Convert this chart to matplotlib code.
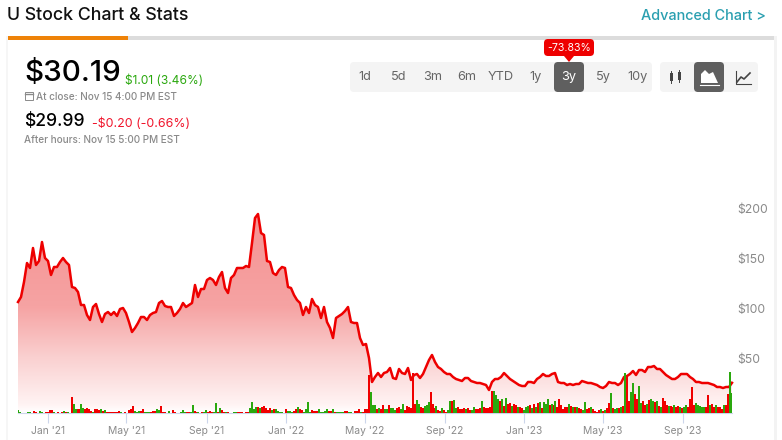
# U stock chart + stats panel
import numpy as np
import pandas as pd
import matplotlib
matplotlib.use('Agg')
import matplotlib.pyplot as plt
import matplotlib.dates as mdates
from matplotlib.colors import LinearSegmentedColormap
from matplotlib.patches import FancyBboxPatch, Rectangle, Polygon
from matplotlib.transforms import ScaledTranslation

# closing price, read every few sessions
price = [111,116,131,150,145,165,148,152,171,155,152,138,146,146,151,155,151,148,126,125,
         121,108,108,98,93,106,109,99,91,99,101,98,101,97,104,105,100,91,81,85,
         90,96,96,93,98,100,101,110,112,107,106,106,97,100,104,110,106,108,110,128,
         116,124,124,133,135,133,128,136,141,125,120,135,138,145,145,145,147,146,170,195,
         199,180,178,152,151,140,138,143,146,145,126,125,118,113,110,98,106,100,114,108,
         106,95,106,91,85,75,95,97,99,102,106,91,90,90,75,68,69,55,31,36,
         40,36,40,41,45,
         35,34,44,40,39,45,33,38,39,35,39,46,53,58,51,46,44,41,39,39,
         36,34,33,32,35,35,32,31,30,30,29,28,23,31,34,34,36,40,37,34,
         32,30,28,27,27,31,31,30,34,36,39,37,37,39,40,31,30,30,28,29,
         28,29,29,32,31,30,30,29,28,26,25,27,31,30,30,28,30,36,37,39,
         42,38,43,43,41,46,46,47,44,44,41,38,36,34,34,36,39,39,39,36,
         34,31,31,30,30,30,29,28,26,26,25,26,26,30.19]

# volume, same scale as the plot; minus means a down day (red bar)
volume = [3,1,0,0,0,1,1,0,-2,-1,0,2,1,0,-1,-1,-3,-3,1,0,-1,0,-1,2,-1,1,0,-16,9,4,
          -4,-4,9,5,-4,-5,-4,-2,1,-4,-4,-3,4,-2,3,-1,-1,-1,-1,-1,-1,-2,1,0,-1,0,-3,-4,-7,2,
          1,2,-2,-4,1,1,1,-1,-2,-2,4,3,-7,-1,-1,0,2,0,-3,-1,0,0,1,3,1,-1,-1,1,8,
          -2,-1,1,0,-1,1,3,-1,-2,-1,1,10,-1,5,-3,-1,1,-1,0,0,1,1,-1,-1,-1,0,-1,-1,5,11,
          4,6,-6,5,-6,-7,-5,-3,-5,3,-4,4,2,1,1,0,-4,2,2,1,-2,-4,6,-4,-3,1,4,11,1,-3,
          -2,-2,-2,4,1,1,2,4,-2,-2,4,-1,1,1,1,1,-2,-2,1,1,0,-2,-2,-4,1,-1,-4,-4,-38,
          21,8,8,-4,5,-4,-8,4,4,-8,5,5,3,-5,-6,4,9,-3,-7,-6,-5,-40,-9,13,9,-6,-5,7,8,11,
          -21,-9,-5,7,-3,-2,5,-3,-1,3,12,-12,13,5,-6,-4,-4,-5,4,-5,-3,3,6,-4,-4,-5,12,-6,-5,-5,
          -6,-22,22,18,14,-12,14,-7,15,-9,-10,7,-9,-8,6,-6,-5,3,6,7,-8,5,-9,6,-10,11,-5,11,9,14,-8,
          9,-8,12,-6,-14,-8,-4,-6,-6,9,-7,6,-6,6,-5,-4,3,11,-4,-5,6,-4,-2,-1,-3,4,-2,3,-5,-10,
          20,-5,4,5,-5,6,-7,40,-38,-12,21,30,-19,-14,27,10,-12,-8,9,-13,14,12,-11,12,-7,6,-15,-12,-8,7,
          -7,-6,8,-6,-7,6,-5,6,8,-6,-14,-26,-8,10,8,7,6,6,-6,-18,8,-9,-6,8,-6,-6,-4,8,-8,-19,41,20]

month_ticks = ['2021-01-01','2021-05-01','2021-09-01','2022-01-01','2022-05-01',
               '2022-09-01','2023-01-01','2023-05-01','2023-09-01']
month_labels = ["Jan '21","May '21","Sep '21","Jan '22","May '22",
                "Sep '22","Jan '23","May '23","Sep '23"]
price_ticks = [50,100,150,200]
ranges = ['1d','5d','3m','6m','YTD','1y','3y','5y','10y']

W, H = 782, 440
RED = '#ee0000'
GREEN = '#2aa80e'
GREY = '#8a8a8a'
FONT = 'Inter'

fig = plt.figure(figsize=(W/100, H/100), dpi=100, facecolor='white')

# page layer, coordinates in pixels
bg = fig.add_axes([0,0,1,1])
bg.set_xlim(0,W)
bg.set_ylim(H,0)
bg.axis('off')

def box(x0,y0,x1,y1,color,r=4):
    bg.add_patch(FancyBboxPatch((x0+r,y0+r),x1-x0-2*r,y1-y0-2*r,
                                boxstyle='round,pad=%d,rounding_size=%d'%(r,r),
                                fc=color,ec='none'))

# card edges and the top bar
bg.add_patch(Rectangle((6,36),2,404,fc='#f6f6f6',ec='none'))
bg.add_patch(Rectangle((774,36),3,404,fc='#f3f3f3',ec='none'))
bg.add_patch(Rectangle((8,36),766,4,fc='#dcdcdc',ec='none'))
bg.add_patch(Rectangle((8,36),120,4,fc='#ee8208',ec='none'))

def txt(x,y,s,size,color,ha='left',weight='normal'):
    bg.text(x,y,s,fontsize=size,color=color,ha=ha,va='center',family=FONT,weight=weight)

txt(7,15,'U Stock Chart & Stats',12.8,'#111111',weight='medium')
txt(766,16,'Advanced Chart >',10.4,'#2a9fb0',ha='right',weight='medium')

txt(24,73,'$30.19',21.3,'#000000',weight='medium')
txt(125,81,'$1.01 (3.46%)',8.6,GREEN)
txt(36,97,'At close: Nov 15 4:00 PM EST',7.2,GREY,weight='medium')
txt(24,121,'$29.99',12.6,'#000000',weight='medium')
txt(92,124,'-$0.20 (-0.66%)',8.9,'#f0132a')
txt(24,140,'After hours: Nov 15 5:00 PM EST',7.2,GREY,weight='medium')

# little calendar
bg.add_patch(Rectangle((25,92),8,8,fc='none',ec=GREY,lw=0.7))
bg.plot([25,33],[94,94],color=GREY,lw=1)

# range buttons
box(350,62,652,92,'#f4f4f4')
box(554,62,584,92,'#5f5f5f')
for i,r in enumerate(ranges):
    txt(365+34*i,77,r,9.2,'white' if r=='3y' else '#666666',ha='center')

# red badge over the active button
box(544,39,594,56,'#ee0000',r=4)
bg.add_patch(Polygon([[564,56],[574,56],[569,62]],fc='#ee0000',ec='none'))
txt(569,48,'-73.83%',7.6,'white',ha='center')

# chart type buttons
box(660,62,758,92,'#f4f4f4')
box(694,62,724,92,'#5f5f5f')
for x,y0,y1 in [(671,73,81),(679,72,80)]:
    bg.plot([x,x],[y0-2,y1+2],color='#444444',lw=0.7)
    bg.add_patch(Rectangle((x-1.5,y0),3,y1-y0,fc='#444444',ec='none'))
bg.add_patch(Polygon([[701,83],[701,74],[705,70],[709,74],[713,72],[718,83]],fc='white',ec='none'))
bg.plot([700,719],[85,85],color='white',lw=0.8)
bg.plot([736,736,751],[71,84,84],color='#444444',lw=0.8)
bg.plot([737,741,744,750],[82,77,79,73],color='#444444',lw=1.2)

# the chart itself
left, right, top, base = 18, 732, 200, 413
ax = fig.add_axes([left/W, 1-base/H, (right-left)/W, (base-top)/H])
ax.patch.set_alpha(0)

price_dates = pd.date_range('2020-11-16','2023-11-15',periods=len(price))
vol_dates = pd.date_range('2020-11-16','2023-11-15',periods=len(volume))

fade = LinearSegmentedColormap.from_list('fade',[(0,'#ffffff'),(0.04,'#fff3f3'),(0.26,'#fad0d0'),
                                                 (0.5,'#f6a3a3'),(1,'#f59090')])
im = ax.imshow(np.linspace(1,0,256).reshape(-1,1),cmap=fade,aspect='auto',vmin=0,vmax=1,
               extent=(0,1,0,1),transform=ax.transAxes,zorder=1)
shape = ax.fill_between(price_dates,0,price,color='none')
im.set_clip_path(shape.get_paths()[0],transform=ax.transData)

ax.plot(price_dates,price,color=RED,lw=1.8,zorder=3,solid_joinstyle='round',clip_on=False)

vol = np.array(volume)
bar_w = (vol_dates[1]-vol_dates[0]).total_seconds()/86400
ax.bar(vol_dates[vol>0],vol[vol>0],width=bar_w,color=GREEN,zorder=4,lw=0,antialiased=False)
ax.bar(vol_dates[vol<0],-vol[vol<0],width=bar_w,color='#f00000',zorder=4,lw=0,antialiased=False)

ax.set_xlim(price_dates[0],price_dates[-1])
ax.set_ylim(0,base-top)

for s in ['top','left','right']:
    ax.spines[s].set_visible(False)
ax.spines['bottom'].set_color('#ccd6eb')
ax.spines['bottom'].set_linewidth(0.8)

ax.set_xticks(mdates.date2num(pd.to_datetime(month_ticks)))
ax.set_xticklabels(month_labels,family=FONT,fontsize=7.4,color=GREY)
ax.tick_params(axis='x',length=7.2,width=0.8,color='#ccd6eb',pad=2)

ax.yaxis.tick_right()
ax.set_yticks(price_ticks)
ax.set_yticklabels(['$%d'%v for v in price_ticks],family=FONT,fontsize=8.8,color=GREY,va='bottom')
ax.tick_params(axis='y',length=0,pad=3.6)
# labels sit a little above their price level
for lab in ax.get_yticklabels():
    lab.set_transform(lab.get_transform()+ScaledTranslation(0,-3/100,fig.dpi_scale_trans))

fig.savefig('out.png',dpi=100)
